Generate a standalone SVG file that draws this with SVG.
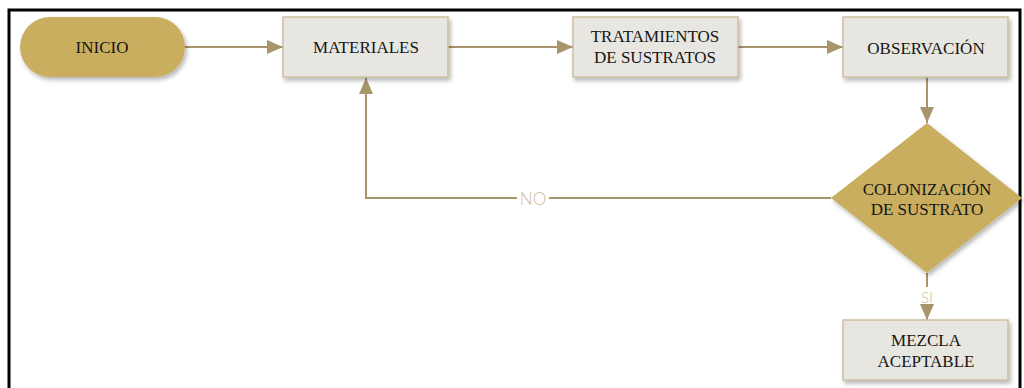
<svg xmlns="http://www.w3.org/2000/svg" width="1024" height="388" viewBox="0 0 1024 388">
<defs>
<style>
.t{font-family:"Liberation Serif","Times New Roman",serif;font-size:17px;fill:#161616;text-anchor:middle}
.box{fill:#E8E6E0;stroke:#CDBF9F;stroke-width:1.5}
.gold{fill:#C9AE5F}
.ln{fill:none;stroke:#A8956B;stroke-width:2}
.lbl{font-family:Lato,"Open Sans",sans-serif;font-weight:300;fill:#CDBB98;text-anchor:middle}
</style>
<filter id="sh" x="-10%" y="-20%" width="130%" height="150%">
<feDropShadow dx="2" dy="3" stdDeviation="2" flood-color="#000" flood-opacity="0.28"/>
</filter>
<marker id="ah" markerWidth="16" markerHeight="14" refX="16" refY="7" orient="auto" markerUnits="userSpaceOnUse">
<path d="M0,0 L16,7 L0,14 Z" fill="#A8956B"/>
</marker>
</defs>
<rect x="9" y="10" width="1011" height="400" fill="#fff" stroke="#000" stroke-width="3"/>
<g id="connectors">
<line class="ln" x1="185" y1="47" x2="283" y2="47" marker-end="url(#ah)"/>
<line class="ln" x1="448" y1="47" x2="573" y2="47" marker-end="url(#ah)"/>
<line class="ln" x1="738" y1="47" x2="843" y2="47" marker-end="url(#ah)"/>
<line class="ln" x1="927" y1="77" x2="927" y2="123" marker-end="url(#ah)"/>
<polyline class="ln" points="831,198 549,198"/>
<polyline class="ln" points="517,198 366,198 366,78" marker-end="url(#ah)"/>
<text class="lbl" x="533" y="205" font-size="17">NO</text>
<line class="ln" x1="927" y1="273" x2="927" y2="287"/>
<text class="lbl" x="927" y="303" font-size="15">SI</text>
<line class="ln" x1="927" y1="306" x2="927" y2="320" marker-end="url(#ah)"/>
</g>
<g id="inicio">
<rect class="gold" x="20" y="17" width="165" height="60" rx="30" filter="url(#sh)"/>
<text class="t" x="102" y="53">INICIO</text>
</g>
<g id="materiales">
<rect class="box" x="283" y="17" width="165" height="60" filter="url(#sh)"/>
<text class="t" x="366" y="53">MATERIALES</text>
</g>
<g id="tratamientos">
<rect class="box" x="573" y="17" width="165" height="60" filter="url(#sh)"/>
<text class="t" x="655" y="42">TRATAMIENTOS</text>
<text class="t" x="655" y="63">DE SUSTRATOS</text>
</g>
<g id="observacion">
<rect class="box" x="843" y="17" width="165" height="60" filter="url(#sh)"/>
<text class="t" x="926" y="54">OBSERVACIÓN</text>
</g>
<g id="colonizacion">
<polygon class="gold" points="927,123 1022,198 927,273 831,198" filter="url(#sh)"/>
<text class="t" x="927" y="195" font-size="18.5">COLONIZACIÓN</text>
<text class="t" x="927" y="215" font-size="18.5">DE SUSTRATO</text>
</g>
<g id="mezcla">
<rect class="box" x="843" y="320" width="165" height="60" filter="url(#sh)"/>
<text class="t" x="926" y="346">MEZCLA</text>
<text class="t" x="926" y="367">ACEPTABLE</text>
</g>
</svg>
